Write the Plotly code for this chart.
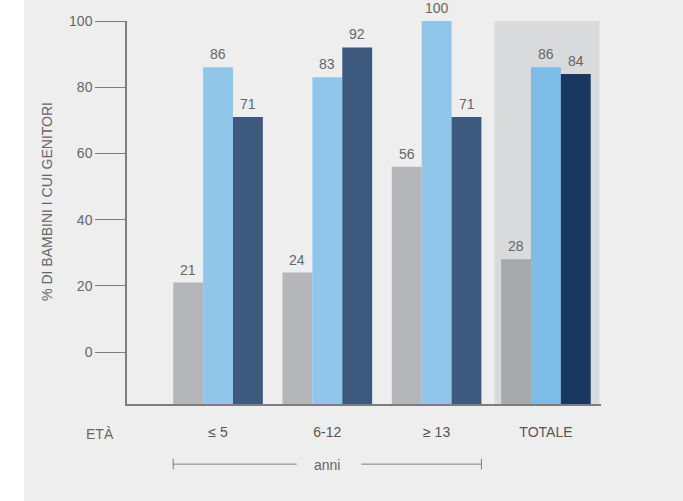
import plotly.graph_objects as go

categories = ["≤ 5", "6-12", "≥ 13", "TOTALE"]
series_a = [21, 24, 56, 28]
series_b = [86, 83, 100, 86]
series_c = [71, 92, 71, 84]
y_tick_vals = [0, 20, 40, 60, 80, 100]
y_title = "% DI BAMBINI I CUI GENITORI"
age_label = "ETÀ"
unit_label = "anni"

colors_a = ["#b5b6b9", "#b5b6b9", "#b5b6b9", "#a8a9ac"]
colors_b = ["#8fc6ea", "#8fc6ea", "#8fc6ea", "#7abde8"]
colors_c = ["#3d5a7e", "#3d5a7e", "#3d5a7e", "#183861"]

Y_MIN, Y_MAX = -15.7, 100
BARGAP = 0.18
FONT = "Liberation Sans, Arial, sans-serif"
TXT = "#666666"
AXC = "#7d7d7d"

fig = go.Figure()
all_series = [series_a, series_b, series_c]
all_colors = [colors_a, colors_b, colors_c]
for vals, cols in zip(all_series, all_colors):
    fig.add_trace(go.Bar(
        x=categories,
        y=[v - Y_MIN for v in vals],
        base=Y_MIN,
        marker=dict(color=cols, line=dict(width=0)),
        showlegend=False,
        hoverinfo="skip",
    ))

# value labels
bw = (1 - BARGAP) / 3
annotations = []
for si, vals in enumerate(all_series):
    for ci, v in enumerate(vals):
        annotations.append(dict(
            x=ci + (si - 1) * bw, y=v, xref="x", yref="y",
            text=str(v), showarrow=False, yanchor="bottom", yshift=3,
            font=dict(family=FONT, size=14, color=TXT),
        ))

annotations.append(dict(
    x=-0.169, y=0.53, xref="paper", yref="paper", text=y_title,
    textangle=-90, showarrow=False, xanchor="center", yanchor="middle",
    font=dict(family=FONT, size=14, color=TXT),
))
annotations.append(dict(
    x=-0.057, y=-0.078, xref="paper", yref="paper", text=age_label,
    showarrow=False, xanchor="center", yanchor="middle",
    font=dict(family=FONT, size=14, color=TXT),
))
annotations.append(dict(
    x=1, y=-0.158, xref="x", yref="paper", text=unit_label,
    showarrow=False, xanchor="center", yanchor="middle",
    font=dict(family=FONT, size=14, color=TXT),
))

half = (1 - BARGAP) / 2
shapes = [
    # white strip at left of page
    dict(type="rect", xref="paper", yref="paper", x0=-0.3, x1=-0.2173,
         y0=-0.3, y1=1.1, fillcolor="white", line=dict(width=0), layer="below"),
    # TOTALE highlight
    dict(type="rect", xref="x", yref="y", x0=2.53, x1=3.49, y0=Y_MIN, y1=Y_MAX,
         fillcolor="#d9dadb", line=dict(width=0), layer="below"),
    # bracket
    dict(type="line", xref="x", yref="paper", x0=0 - half, x1=0.72, y0=-0.157, y1=-0.157,
         line=dict(color=AXC, width=1)),
    dict(type="line", xref="x", yref="paper", x0=1.31, x1=2 + half, y0=-0.157, y1=-0.157,
         line=dict(color=AXC, width=1)),
    dict(type="line", xref="x", yref="paper", x0=0 - half, x1=0 - half, y0=-0.143, y1=-0.171,
         line=dict(color=AXC, width=1)),
    dict(type="line", xref="x", yref="paper", x0=2 + half, x1=2 + half, y0=-0.143, y1=-0.171,
         line=dict(color=AXC, width=1)),
]

fig.update_layout(
    width=683, height=501,
    margin=dict(l=127, r=82, t=21, b=97),
    paper_bgcolor="#eeeeee", plot_bgcolor="rgba(0,0,0,0)",
    barmode="group", bargap=BARGAP, bargroupgap=0,
    font=dict(family=FONT, color=TXT),
    annotations=annotations, shapes=shapes,
    xaxis=dict(
        type="category", range=[-0.833, 3.504],
        showline=True, linecolor=AXC, linewidth=1.5,
        ticks="outside", ticklen=14, tickcolor="rgba(0,0,0,0)",
        tickfont=dict(family=FONT, size=14, color="#555555"),
        showgrid=False, zeroline=False, fixedrange=True,
    ),
    yaxis=dict(
        range=[Y_MIN, Y_MAX], tickvals=y_tick_vals,
        showline=True, linecolor=AXC, linewidth=1.5,
        ticks="outside", ticklen=30, tickwidth=1.2, tickcolor=AXC,
        tickfont=dict(family=FONT, size=14, color=TXT),
        showgrid=False, zeroline=False, fixedrange=True,
    ),
)

fig.write_html(
    "out.html",
    config={"displayModeBar": False},
    post_script="document.body.style.margin='0';document.body.style.overflow='hidden';",
)
